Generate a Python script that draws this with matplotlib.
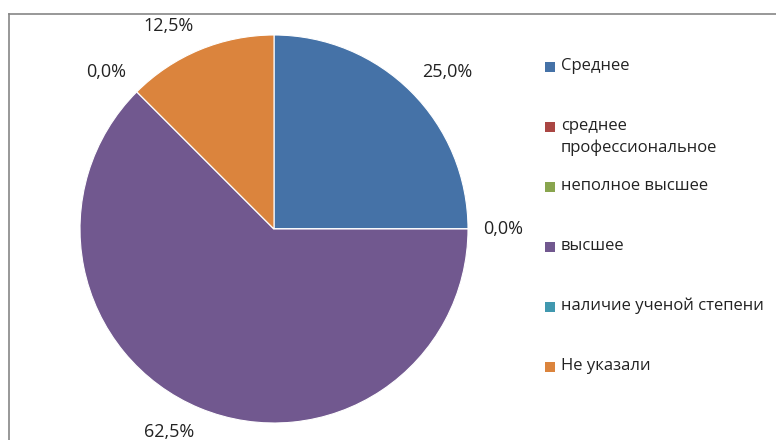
import numpy as np
import matplotlib
matplotlib.use("Agg")
import matplotlib.pyplot as plt
from matplotlib.patches import Rectangle
from matplotlib.lines import Line2D

categories = ["Среднее", "среднее\nпрофессиональное", "неполное высшее",
              "высшее", "наличие ученой степени", "Не указали"]
values = [25.0, 0.0, 0.0, 62.5, 0.0, 12.5]
colors = ["#4572A7", "#AA4643", "#89A54E", "#71588F", "#4198AF", "#DB843D"]

plt.rcParams['font.family'] = ['Open Sans', 'DejaVu Sans']

W, H = 776, 440
fig = plt.figure(figsize=(W / 100, H / 100), dpi=100)

# frame lines (left and top)
fig.add_artist(Line2D([8.5 / W, 8.5 / W], [0, 1 - 14 / H], transform=fig.transFigure,
                      color="#868686", lw=1.2))
fig.add_artist(Line2D([8.5 / W, 1], [1 - 14 / H, 1 - 14 / H], transform=fig.transFigure,
                      color="#868686", lw=1.2))

cx, cy, R, k = 274, 229, 194, 1.3
side = 2 * R * k
ax = fig.add_axes([(cx - side / 2) / W, (H - cy - side / 2) / H, side / W, side / H])

def fmt(p):
    return ("%.1f%%" % p).replace(".", ",")

wedges, texts, autotexts = ax.pie(values, colors=colors, startangle=90, counterclock=False,
                                  radius=1.0, autopct=fmt, pctdistance=1.08,
                                  wedgeprops=dict(linewidth=0.8, edgecolor="white"),
                                  textprops=dict(fontsize=13, color="#222222"))
ax.set_xlim(-k, k)
ax.set_ylim(-k, k)
ax.axis("off")

# Excel-like "outside end" anchoring of the labels
seen = set()
for w, t in zip(wedges, autotexts):
    ang = np.deg2rad((w.theta1 + w.theta2) / 2)
    x, y = np.cos(ang), np.sin(ang)
    t.set_ha("left" if x > 0.05 else ("right" if x < -0.05 else "center"))
    t.set_va("bottom" if y > 0.05 else ("top" if y < -0.05 else "center"))
    pos = (round(t.get_position()[0], 3), round(t.get_position()[1], 3))
    if pos in seen:
        t.set_visible(False)
    seen.add(pos)

# legend
for i, (lab, col) in enumerate(zip(categories, colors)):
    y = 67 + 60 * i
    fig.add_artist(Rectangle((545 / W, 1 - (y + 5) / H), 10 / W, 10 / H,
                             transform=fig.transFigure, facecolor=col, edgecolor="none"))
    fig.text(561 / W, 1 - (y - 9) / H, lab, fontsize=12, color="#222222",
             va="top", ha="left", linespacing=1.45)

fig.savefig("out.png", dpi=100)
